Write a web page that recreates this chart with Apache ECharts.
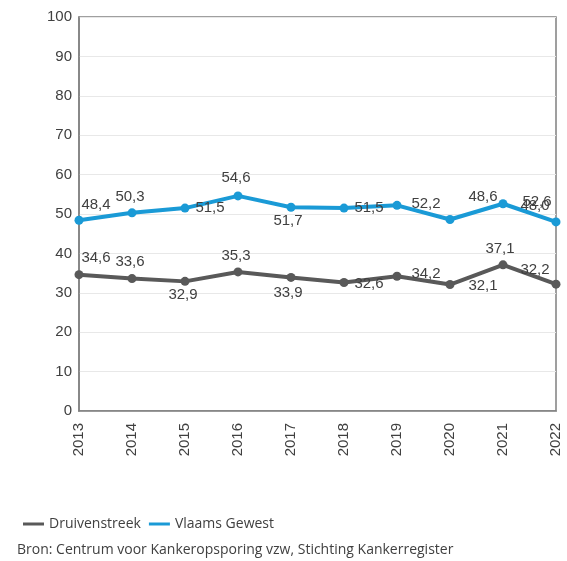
<!DOCTYPE html>
<html><head><meta charset="utf-8">
<script src="https://cdn.jsdelivr.net/npm/echarts@6/dist/echarts.min.js"></script>
<style>html,body{margin:0;padding:0;background:#fff}#c{width:567px;height:561px}</style>
</head><body><div id="c"></div>
<script>
const years = ['2013','2014','2015','2016','2017','2018','2019','2020','2021','2022'];
const druivenstreek = [34.6, 33.6, 32.9, 35.3, 33.9, 32.6, 34.2, 32.1, 37.1, 32.2];
const vlaamsGewest = [48.4, 50.3, 51.5, 54.6, 51.7, 51.5, 52.2, 48.6, 52.6, 48.0];
const yTicks = [0,10,20,30,40,50,60,70,80,90,100];

// label offsets (style only)
const offBlue = [[17,-15],[-2,-16],[25,0],[-2,-18],[-3,14],[25,0],[29,-1],[33,-23],[34,-2],[-21,-16]];
const offGray = [[17,-17],[-2,-17],[-2,13],[-2,-16],[-3,15],[25,1],[29,-2],[33,1],[-3,-16],[-21,-14]];

function build(vals, offs){
  return vals.map((v,i)=>({value:v, label:{offset:offs[i]}}));
}
const ARIAL = "'Liberation Sans', Arial, sans-serif";
const fmt = p => String(p.value.toFixed(1)).replace('.', ',');
const labelBase = {show:true, position:'inside', align:'center', verticalAlign:'middle',
  fontFamily:ARIAL, fontSize:15, color:'#404040', formatter: fmt};

const chart = echarts.init(document.getElementById('c'), null, {renderer:'canvas'});
chart.setOption({
  animation:false,
  textStyle:{fontFamily:ARIAL},
  grid:{left:79, right:11, top:17, bottom:150, show:true, borderColor:'#808080', borderWidth:1.5},
  xAxis:{type:'category', data:years, boundaryGap:false,
    axisLine:{lineStyle:{color:'#808080', width:1.5}}, axisTick:{show:false},
    axisLabel:{rotate:90, fontFamily:ARIAL, fontSize:15, color:'#404040', margin:12},
    splitLine:{show:false}},
  yAxis:{type:'value', min:0, max:100, interval:10,
    axisLine:{show:true, lineStyle:{color:'#808080', width:1.5}}, axisTick:{show:false},
    axisLabel:{fontFamily:ARIAL, fontSize:15, color:'#404040', margin:7,
      formatter: v => yTicks.includes(v) ? String(v) : ''},
    splitLine:{lineStyle:{color:'#e8e8e8', width:1}}},
  legend:{left:18, top:512, itemWidth:21, itemHeight:3, itemGap:8, icon:'rect',
    textStyle:{fontFamily:"'Open Sans', sans-serif", fontSize:14, color:'#404040'},
    data:['Druivenstreek','Vlaams Gewest']},
  title:{text:'Bron: Centrum voor Kankeropsporing vzw, Stichting Kankerregister', left:12, top:538,
    textStyle:{fontFamily:"'Open Sans', sans-serif", fontSize:14, fontWeight:'normal', color:'#404040'}},
  series:[
    {name:'Druivenstreek', type:'line', data:build(druivenstreek, offGray), symbol:'circle', symbolSize:9,
      lineStyle:{color:'#595959', width:4}, itemStyle:{color:'#595959'}, label:labelBase, z:2},
    {name:'Vlaams Gewest', type:'line', data:build(vlaamsGewest, offBlue), symbol:'circle', symbolSize:9,
      lineStyle:{color:'#1a9ad6', width:4}, itemStyle:{color:'#1a9ad6'}, label:labelBase, z:3}
  ]
});
</script></body></html>
